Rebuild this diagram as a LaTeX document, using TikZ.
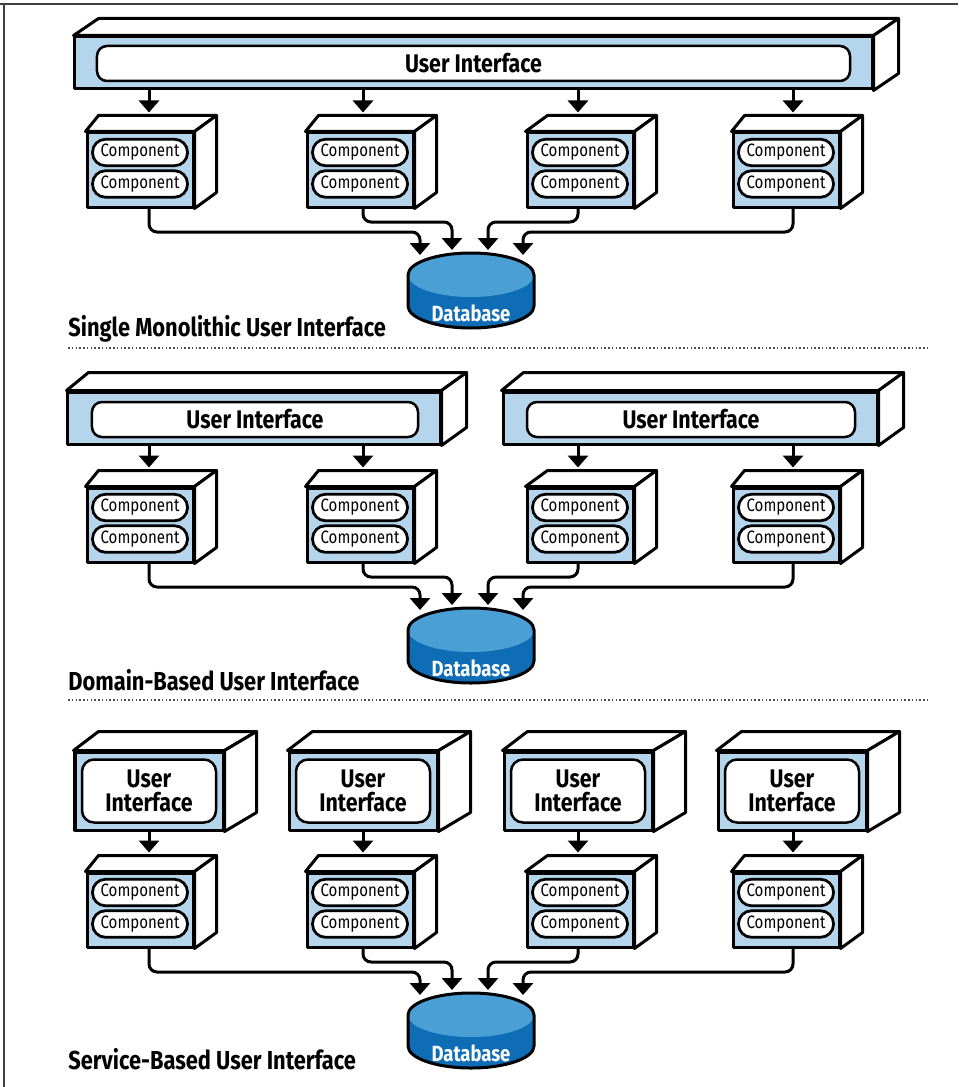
\documentclass[tikz,border=0pt]{standalone}
\usepackage{fontspec}
\setmainfont{Fira Sans}[FakeStretch=0.84]
\usetikzlibrary{arrows.meta,calc}

\definecolor{uiblue}{HTML}{B4D5EB}
\definecolor{dbtop}{HTML}{4A9FD5}
\definecolor{dbbody}{HTML}{0F6DB5}

\tikzset{
  face/.style={draw,line width=0.6mm,fill=uiblue,inner sep=0,line join=round},
  side/.style={draw,line width=0.6mm,fill=white,line join=round},
  cmp/.style={minimum width=21.2mm,minimum height=14.8mm},
  pill/.style={draw,line width=0.55mm,fill=white,rounded corners=2.6mm,minimum width=19mm,
    minimum height=5.3mm,inner sep=0,font=\fontsize{10.2}{10}\selectfont},
  uibox/.style={draw,line width=0.5mm,fill=white,rounded corners=2mm,inner sep=0,
    font=\bfseries\fontsize{14.5}{13.5}\selectfont,align=center},
  arrow/.style={line width=0.6mm,-{Triangle[width=4mm,length=2.4mm]}},
  link/.style={arrow,rounded corners=1.6mm},
  title/.style={anchor=base west,inner sep=0,font=\bfseries\fontsize{14.8}{14}\selectfont},
  dbtext/.style={text=white,inner sep=0,font=\bfseries\fontsize{12.5}{12}\selectfont},
  sep/.style={line width=0.3mm,black!70,dash pattern=on 0.3mm off 0.45mm}
}

% side and top faces of a box
\newcommand\cubesides[4]{%
  \draw[side] (#1.north west) -- ++(#2,#4) -- ($(#1.north east)+(#3,#4)$) -- (#1.north east) -- cycle;
  \draw[side] (#1.north east) -- ++(#3,#4) -- ($(#1.south east)+(#3,#4)$) -- (#1.south east) -- cycle;}

\begin{document}
\begin{tikzpicture}[x=0.2mm,y=-0.2mm]
\useasboundingbox (0,0) rectangle (958,1087);
\draw[line width=0.4mm,black!75] (0,4) -- (958,4) (4,4) -- (4,1087);

\foreach \s/\yo in {1/0,2/355,3/740}{
  \foreach \c/\cx/\dx/\l in {1/140/9/13,2/360/3/13,3/580/-2/22,4/786/7/13}{
    \node[face,cmp] (c\s\c) at (\cx,170+\yo) {};
    \cubesides{c\s\c}{\l}{22}{-16}
    \node[pill] at ($(c\s\c)+(0,-17.5)$) {Component};
    \node[pill] at ($(c\s\c)+(0,14)$) {Component};
    \coordinate (t\s\c) at ($(c\s\c.north)+(\dx,-19)$);
    \coordinate (o\s\c) at ($(c\s\c.south)+(\dx,0)$);
  }
  \coordinate (db\s) at (471,275+\yo);
  \fill[dbbody] ($(db\s)+(-63,0)$) -- ++(0,31) arc[start angle=180,end angle=0,x radius=63,y radius=22]
    -- ++(0,-31) -- cycle;
  \fill[dbtop] (db\s) ellipse[x radius=63,y radius=22];
  \draw[line width=0.6mm] ($(db\s)+(-63,0)$) arc[start angle=180,end angle=360,x radius=63,y radius=22]
    -- ++(0,31) arc[start angle=0,end angle=180,x radius=63,y radius=22] -- cycle;
  \node[dbtext] (dbl\s) at (471,313+\yo) {Database};
  \foreach \c/\ix/\iy/\by in {1/-51/-20/-43,2/-19/-25/-53,3/17/-25/-53,4/52/-20/-43}{
    \coordinate (in\s\c) at ($(db\s)+(\ix,\iy)$);
    \draw[link] (o\s\c) |- ($(db\s)+(\ix,\by)$) -- (in\s\c);
  }
}

% single monolithic
\node[face,minimum width=159.4mm,minimum height=10.4mm] (ua) at (473.5,63) {};
\cubesides{ua}{25}{25}{-17}
\node[uibox,minimum width=150.6mm,minimum height=7mm] at (473.5,63.5) {User Interface};
\foreach \c in {1,...,4}
  \draw[arrow] (ua.south -| t1\c) -- (t1\c);
\node[title] (h1) at (68,336) {Single Monolithic User Interface};
\draw[sep] (68,348) -- (930,348);

% domain based
\node[face,minimum width=74.4mm,minimum height=10.4mm] (ub) at (254,418) {};
\cubesides{ub}{22}{25}{-18}
\node[uibox,minimum width=65.2mm,minimum height=7mm] at (255,419.5) {User Interface};
\node[face,minimum width=74.8mm,minimum height=10.4mm] (uc) at (690,418) {};
\cubesides{uc}{22}{25}{-18}
\node[uibox,minimum width=65.6mm,minimum height=7mm] at (691,419.5) {User Interface};
\foreach \c/\u in {1/ub,2/ub,3/uc,4/uc}
  \draw[arrow] (\u.south -| t2\c) -- (t2\c);
\node[title] (h2) at (68,690) {Domain-Based User Interface};
\draw[sep] (68,700) -- (930,700);

% service based
\foreach \c/\ux in {1/149,2/363,3/578,4/792}{
  \node[face,minimum width=29.6mm,minimum height=15.6mm] (ud\c) at (\ux,791) {};
  \cubesides{ud\c}{25}{32}{-19}
  \node[uibox,minimum width=26.8mm,minimum height=12.6mm,rounded corners=2.4mm] at (\ux,791) {User\\Interface};
  \draw[arrow] (ud\c.south -| t3\c) -- (t3\c);
}
\node[title] (h3) at (68,1069) {Service-Based User Interface};
\end{tikzpicture}
\end{document}
